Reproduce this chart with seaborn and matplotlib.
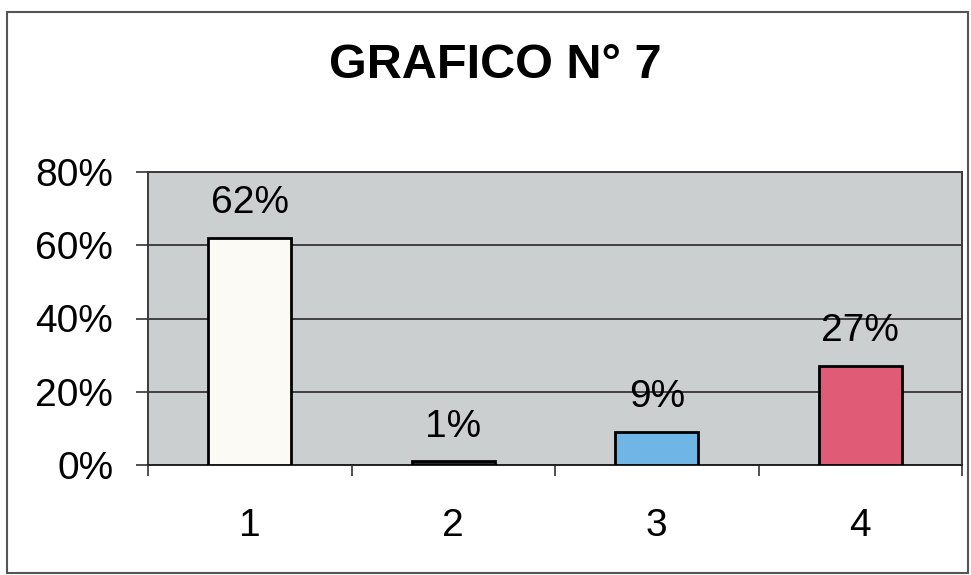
import numpy as np
import pandas as pd
import matplotlib
matplotlib.use('Agg')
import matplotlib.pyplot as plt
import seaborn as sns
from matplotlib.patches import Rectangle
from matplotlib.ticker import PercentFormatter, FixedLocator

categories = ['1', '2', '3', '4']
values = [0.62, 0.01, 0.09, 0.27]
labels = ['62%', '1%', '9%', '27%']
bar_colors = ['#fcfaf4', '#2a2a2a', '#6fb6e6', '#e05b76']

sns.set_style('white')
plt.rcParams['font.family'] = ['Liberation Sans', 'DejaVu Sans']
plt.rcParams['text.color'] = 'black'
plt.rcParams['xtick.color'] = 'black'
plt.rcParams['ytick.color'] = 'black'

df = pd.DataFrame({'cat': categories, 'val': values})

fig = plt.figure(figsize=(9.71, 5.75), dpi=100)
ax = fig.add_axes([148 / 971, 1 - 465 / 575, 814 / 971, 293 / 575])

sns.barplot(data=df, x='cat', y='val', hue='cat', palette=bar_colors,
            legend=False, width=0.41, edgecolor='black', linewidth=2,
            saturation=1, ax=ax, zorder=3)

ax.set_facecolor('#cccfd0')
ax.set_ylim(0, 0.8)
ax.set_xlim(-0.5, 3.5)
ax.yaxis.set_major_locator(FixedLocator([0, 0.2, 0.4, 0.6, 0.8]))
ax.yaxis.set_major_formatter(PercentFormatter(1.0, decimals=0))
ax.grid(axis='y', color='#404040', linewidth=1.4, zorder=0)
ax.set_axisbelow(True)

for side in ['top', 'right', 'left', 'bottom']:
    ax.spines[side].set_visible(True)
    ax.spines[side].set_color('#3a3a3a')
    ax.spines[side].set_linewidth(1.4)
ax.spines['bottom'].set_color('#222222')

ax.tick_params(axis='y', which='major', left=True, length=9, width=1.2,
               color='#333333', pad=16, labelsize=28)
ax.set_xticks(np.arange(len(categories)))
ax.set_xticklabels(categories)
ax.set_xticks(np.arange(len(categories) + 1) - 0.5, minor=True)
ax.tick_params(axis='x', which='major', bottom=False, length=0, pad=31, labelsize=28)
ax.tick_params(axis='x', which='minor', bottom=True, length=8, width=1.2,
               color='#333333', direction='out')
ax.set_xlabel('')
ax.set_ylabel('')

for container in ax.containers:
    idx = int(round(container.patches[0].get_x() + container.patches[0].get_width() / 2))
    ax.bar_label(container, labels=[labels[idx]], padding=12, fontsize=28)

fig.text(0.51, 1 - 66 / 575, 'GRAFICO N° 7', ha='center', va='center',
         fontsize=35, fontweight='bold')

fig.patches.append(Rectangle((7 / 971, 2 / 575), 961 / 971, 561 / 575,
                             transform=fig.transFigure, fill=False,
                             edgecolor='#555555', linewidth=1.5))

fig.savefig('out.png', dpi=100, facecolor='white')
